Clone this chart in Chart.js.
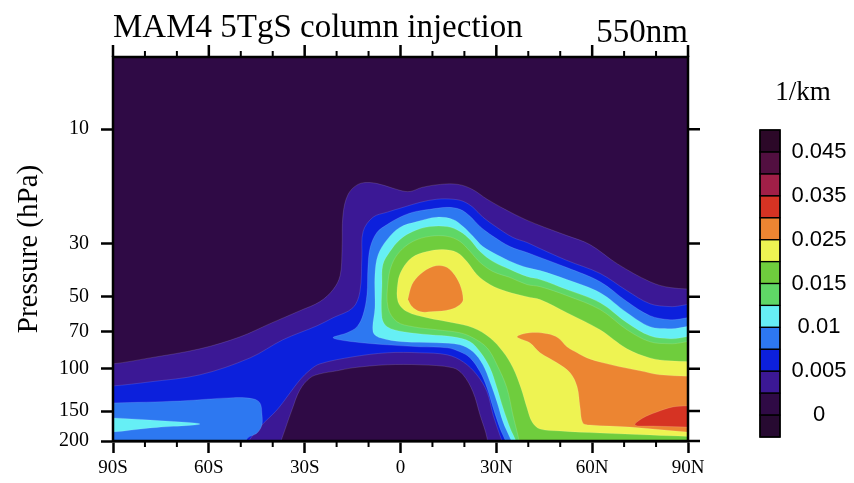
<!DOCTYPE html>
<html>
<head>
<meta charset="utf-8">
<script src="https://cdn.jsdelivr.net/npm/chart.js@4.4.1/dist/chart.umd.min.js"></script>
<style>
html, body { margin: 0; padding: 0; background: #ffffff; }
canvas { display: block; }
</style>
</head>
<body>
<canvas id="c" width="854" height="483"></canvas>
<script>
// Contour levels of 550nm aerosol extinction (1/km)
const levels = [0, 0.0025, 0.005, 0.0075, 0.01, 0.0125, 0.015, 0.02, 0.025, 0.03, 0.035, 0.04, 0.045];
const levelLabels = ['0', '', '0.005', '', '0.01', '', '0.015', '', '0.025', '', '0.035', '', '0.045'];
// one colour per interval: below 0, 0-0.0025, ..., above 0.045
const levelColors = ['#270a31', '#2f0a45', '#3b1895', '#0c20dc', '#2d78f1', '#66eff5', '#5fd766',
                     '#6fcd3d', '#eef352', '#ec8532', '#d63323', '#a11f47', '#520f40', '#2c0828'];

const latTicks = [-90, -60, -30, 0, 30, 60, 90];
const latLabels = ['90S', '60S', '30S', '0', '30N', '60N', '90N'];
const latMinorTicks = [-80, -70, -50, -40, -20, -10, 10, 20, 40, 50, 70, 80];
const pressureTicks = [10, 30, 50, 70, 100, 150, 200];

// Filled contour regions as [latitude, pressure hPa] outlines
const region0025 = [[95,250],[-95,250],[-95,95.3],[-90,95.3],[-78.4,90.0],[-62.8,82.5],[-50.2,73.5],[-40.9,64.8],[-31.5,57.2],[-25.2,52.4],[-21.1,46.7],[-18.9,40.8],[-18.3,31.8],[-18.0,22.7],[-16.4,18.7],[-13.3,17.0],[-9.5,16.7],[-4.9,17.2],[-0.2,18.0],[3.0,18.2],[6.7,17.5],[12.4,17.0],[18.0,17.0],[22.4,17.8],[27.1,19.6],[32.7,21.6],[39.0,23.8],[45.2,25.7],[52.1,27.8],[59.3,30.3],[67.8,36.4],[78.1,43.3],[84.4,45.8],[95,46.7]];
const hole0025 = [[28.0,250],[-38.3,250],[-37.7,208],[-36.2,180],[-34.0,148.5],[-31.5,122.4],[-28.3,109],[-25.2,104.9],[-19.9,101.9],[-14.9,99.0],[-4.2,96.2],[6.1,96.2],[16.4,99.0],[19.6,105.9],[22.7,124.8],[24.9,155.8],[27.1,194.4],[28.0,250]];
const region005 = [[-95,250],[-95,117.8],[-90,117.8],[-78.4,113.3],[-62.8,105.9],[-47.1,90.0],[-36.8,75.6],[-26.1,66.1],[-21.1,61.2],[-14.9,55.6],[-12.7,47.6],[-12.1,34.3],[-11.7,26.7],[-8.6,23.3],[-4.2,22.2],[0.8,21.2],[6.1,20.2],[11.4,19.6],[16.4,19.6],[19.6,20.0],[22.7,21.2],[25.8,23.3],[30.2,25.7],[35.2,28.3],[39.6,29.7],[43.7,31.5],[52.1,35.3],[62.5,40.0],[70.9,47.2],[78.1,53.5],[84.4,55.0],[95,55.6],[95,250],[32.1,250],[32.1,208],[31.1,188.9],[29.0,155.8],[27.1,124.8],[23.9,105.9],[19.6,93.5],[14.6,87.4],[6.1,85.7],[-4.2,85.7],[-14.9,89.1],[-25.2,95.3],[-28.3,101.0],[-31.5,111.2],[-34.6,126.0],[-38.7,148.5],[-44.0,174.9],[-48.1,208],[-48.7,250]];
const region0075Main = [[34.3,250],[33.3,208],[31.1,176.5],[29.0,145.6],[27.1,120.1],[24.9,102.9],[21.8,90.0],[18.6,84.9],[14.6,81.7],[6.1,80.9],[-4.2,79.4],[-14.9,77.1],[-21.1,74.2],[-16.7,70.7],[-13.6,66.7],[-11.7,59.4],[-10.5,49.0],[-10.2,37.8],[-9.5,31.2],[-7.4,27.0],[-4.2,25.0],[-0.2,23.3],[3.9,22.2],[9.2,21.6],[14.6,21.2],[18.6,21.6],[21.8,23.1],[24.9,25.5],[29.0,28.0],[34.3,30.9],[39.6,32.7],[43.7,34.3],[52.1,37.8],[62.5,43.3],[70.9,52.4],[78.1,60.0],[84.4,62.4],[95,63.0],[95,250]];
const region0075South = [[-95,250],[-95,138.7],[-90,138.7],[-69.0,136.1],[-52.4,131.9],[-46.2,133.3],[-44.0,138.7],[-43.4,152.8],[-43.4,171.5],[-44.9,185.3],[-48.1,196.3],[-50.2,250]];
const region01Main = [[35.5,250],[35.2,208],[34.3,194.4],[32.1,166.6],[30.2,137.4],[28.0,113.3],[25.8,96.2],[22.7,84.9],[18.6,79.4],[11.4,77.9],[0.8,77.1],[-6.4,74.2],[-8.6,70.0],[-8.0,55.6],[-8.0,40.4],[-7.0,33.4],[-4.2,28.9],[-0.2,25.7],[5.2,24.3],[11.4,23.3],[16.4,23.8],[19.6,25.5],[22.7,28.0],[25.8,30.9],[30.2,33.4],[35.2,36.0],[39.6,37.8],[43.7,38.9],[52.1,42.4],[62.5,48.1],[70.9,58.3],[78.1,66.7],[84.4,68.0],[95,68.7],[95,250]];
const region01South = [[-95,160.3],[-90,160.3],[-78.4,163.5],[-62.8,169.9],[-78.4,176.5],[-90,183.5],[-95,183.5]];
const region0125 = [[36.8,250],[36.5,208],[34.3,176.5],[32.1,145.6],[30.2,120.1],[28.0,99.0],[24.9,84.9],[21.8,77.1],[16.4,73.5],[9.2,72.1],[0.8,70.0],[-4.2,66.7],[-5.8,61.2],[-5.8,44.5],[-5.5,36.7],[-3.3,32.4],[-0.2,28.9],[3.9,26.7],[9.2,25.5],[14.6,25.5],[18.6,26.7],[21.8,28.9],[24.9,32.4],[29.0,35.7],[34.3,38.5],[39.6,41.2],[43.7,42.4],[52.1,46.7],[62.5,53.0],[70.9,64.2],[78.1,72.8],[84.4,74.9],[95,75.6],[95,250]];
const region015 = [[38.0,250],[37.4,208],[35.2,155.8],[33.3,120.1],[30.2,96.2],[27.1,81.7],[22.7,74.2],[18.6,70.7],[11.4,68.7],[3.9,66.7],[-1.1,63.6],[-3.9,55.6],[-3.9,43.3],[-2.7,36.7],[-0.2,32.4],[3.9,29.4],[9.2,28.0],[14.6,28.0],[18.6,29.4],[21.8,32.4],[24.9,36.0],[29.0,39.3],[34.3,41.6],[39.6,44.5],[43.7,45.4],[52.1,49.5],[62.5,56.6],[70.9,68.7],[78.1,77.1],[84.4,78.6],[95,79.4],[95,250]];
const region02 = [[95,192.6],[78.1,188.9],[62.5,185.3],[49.9,181.7],[43.7,178.3],[41.2,166.6],[39.6,145.6],[37.7,120.1],[35.2,99.0],[32.1,84.9],[28.0,74.2],[22.7,67.4],[16.4,64.2],[8.3,61.2],[2.0,57.7],[-0.8,52.4],[-0.8,43.3],[0.5,38.5],[3.6,34.3],[8.3,32.4],[13.3,31.8],[17.7,32.7],[20.8,35.7],[23.9,40.4],[28.0,44.5],[33.3,47.6],[39.6,50.0],[43.7,51.4],[52.1,58.3],[62.5,68.7],[70.9,82.5],[78.1,90.0],[84.4,92.6],[95,93.5]];
const region025Core = [[2.3,51.4],[3.6,44.5],[6.1,40.4],[10.2,37.4],[13.9,37.4],[16.4,39.7],[18.6,44.5],[19.6,51.4],[18.6,54.0],[15.5,56.6],[10.2,57.7],[6.1,57.7],[3.6,55.0],[2.3,51.4]];
const region025North = [[95,185.3],[89.7,183.5],[71.8,174.9],[59.3,171.5],[57.1,168.2],[56.2,144.2],[55.3,118.9],[53.1,103.9],[49.0,94.4],[43.7,85.7],[40.5,77.9],[36.5,73.5],[40.5,70.7],[45.9,71.4],[49.3,74.2],[52.1,80.9],[55.3,85.7],[58.4,90.0],[63.4,94.4],[68.7,98.1],[75.0,101.9],[81.2,105.9],[95,108.0]];
const region03North = [[95,176.5],[89.7,174.9],[79.0,173.2],[73.4,171.5],[75.9,160.3],[80.3,151.3],[85.3,144.2],[89.7,142.9],[95,142.9]];

// painting order (bottom first) with the colour interval each region takes
const layers = [
  [region0025, 2], [hole0025, 1], [region005, 3],
  [region0075Main, 4], [region0075South, 4],
  [region01Main, 5], [region01South, 5],
  [region0125, 6], [region015, 7], [region02, 8],
  [region025Core, 9], [region025North, 9], [region03North, 10]
];

const datasets = layers.map(([pts, k]) => ({
  data: pts.map(([lat, p]) => ({ x: lat, y: p })),
  showLine: true,
  fill: 'shape',
  backgroundColor: levelColors[k],
  borderColor: 'rgba(255,255,255,0.22)',
  borderWidth: 0.6,
  pointRadius: 0,
  tension: 0.35
})).reverse(); // first dataset is drawn on top

const serif = '"Liberation Serif", "Times New Roman", serif';
const sans = '"Liberation Sans", Arial, sans-serif';

const plotBackground = {
  id: 'plotBackground',
  beforeDatasetsDraw(chart) {
    const { ctx, chartArea: a } = chart;
    ctx.save();
    ctx.fillStyle = levelColors[1];
    ctx.fillRect(a.left, a.top, a.right - a.left, a.bottom - a.top);
    ctx.restore();
  }
};

const frameAndKey = {
  id: 'frameAndKey',
  afterDraw(chart) {
    const { ctx, chartArea: a } = chart;
    const xs = chart.scales.x, ys = chart.scales.y;
    ctx.save();
    ctx.strokeStyle = '#000';
    ctx.lineCap = 'butt';
    // frame
    ctx.lineWidth = 2.5;
    ctx.strokeRect(a.left, a.top, a.right - a.left, a.bottom - a.top);
    // top major ticks and right ticks
    ctx.beginPath();
    latTicks.forEach(v => {
      const x = xs.getPixelForValue(v);
      ctx.moveTo(x, a.top); ctx.lineTo(x, a.top - 12);
    });
    pressureTicks.forEach(p => {
      const y = ys.getPixelForValue(p);
      ctx.moveTo(a.right, y); ctx.lineTo(a.right + 12, y);
    });
    ctx.stroke();
    // minor latitude ticks, top and bottom
    ctx.lineWidth = 2;
    ctx.beginPath();
    latMinorTicks.forEach(v => {
      const x = xs.getPixelForValue(v);
      ctx.moveTo(x, a.top); ctx.lineTo(x, a.top - 6);
      ctx.moveTo(x, a.bottom); ctx.lineTo(x, a.bottom + 6);
    });
    ctx.stroke();

    // colour key
    const kx = 760, kw = 20, kTop = 130, kBottom = 437;
    const n = levelColors.length, h = (kBottom - kTop) / n;
    for (let i = 0; i < n; i++) {
      const y = kBottom - (i + 1) * h;
      ctx.fillStyle = levelColors[i];
      ctx.fillRect(kx, y, kw, h);
    }
    ctx.lineWidth = 1.2;
    for (let i = 0; i < n; i++) {
      const y = kBottom - (i + 1) * h;
      ctx.strokeRect(kx, y, kw, h);
    }
    ctx.lineWidth = 1.5;
    ctx.strokeRect(kx, kTop, kw, kBottom - kTop);
    ctx.fillStyle = '#000';
    ctx.font = '22px ' + sans;
    ctx.textAlign = 'center';
    ctx.textBaseline = 'middle';
    levels.forEach((lv, j) => {
      if (!levelLabels[j]) return;
      ctx.fillText(levelLabels[j], 819, kBottom - (j + 1) * h);
    });
    ctx.font = '27px ' + serif;
    ctx.textBaseline = 'alphabetic';
    ctx.fillText('1/km', 803, 100);

    // titles
    ctx.font = '33px ' + serif;
    ctx.textAlign = 'left';
    ctx.fillText('MAM4 5TgS column injection', a.left, 37);
    ctx.textAlign = 'right';
    ctx.fillText('550nm', a.right, 42);
    ctx.restore();
  }
};

Chart.defaults.font.family = serif;
Chart.defaults.color = '#000';

new Chart(document.getElementById('c'), {
  type: 'scatter',
  data: { datasets },
  options: {
    responsive: false,
    devicePixelRatio: 1,
    animation: false,
    events: [],
    layout: { padding: { left: 0, top: 57, right: 166, bottom: 0 } },
    elements: { line: { capBezierPoints: false } },
    plugins: { legend: { display: false }, tooltip: { enabled: false } },
    scales: {
      x: {
        type: 'linear', min: -90, max: 90,
        afterBuildTicks: s => { s.ticks = latTicks.map(v => ({ value: v })); },
        afterFit: s => { s.height = 42; },
        ticks: {
          autoSkip: false, maxRotation: 0, padding: 4, color: '#000',
          font: { family: serif, size: 19 },
          callback: v => { const i = latTicks.indexOf(v); return i >= 0 ? latLabels[i] : ''; }
        },
        grid: { drawOnChartArea: false, drawTicks: true, tickLength: 12, tickWidth: 2.5, tickColor: '#000' },
        border: { display: true, color: '#000', width: 2.5 }
      },
      y: {
        type: 'logarithmic', reverse: true, min: 5, max: 200,
        afterBuildTicks: s => { s.ticks = pressureTicks.map(v => ({ value: v })); },
        afterFit: s => { s.width = 113; },
        ticks: {
          autoSkip: false, padding: 12, color: '#000',
          font: { family: serif, size: 20 },
          callback: v => String(v)
        },
        grid: { drawOnChartArea: false, drawTicks: true, tickLength: 12, tickWidth: 2.5, tickColor: '#000' },
        border: { display: true, color: '#000', width: 2.5 },
        title: {
          display: true, text: 'Pressure (hPa)', color: '#000',
          font: { family: serif, size: 29 }, padding: { top: 12, bottom: 0 }
        }
      }
    }
  },
  plugins: [plotBackground, frameAndKey]
});
</script>
</body>
</html>
